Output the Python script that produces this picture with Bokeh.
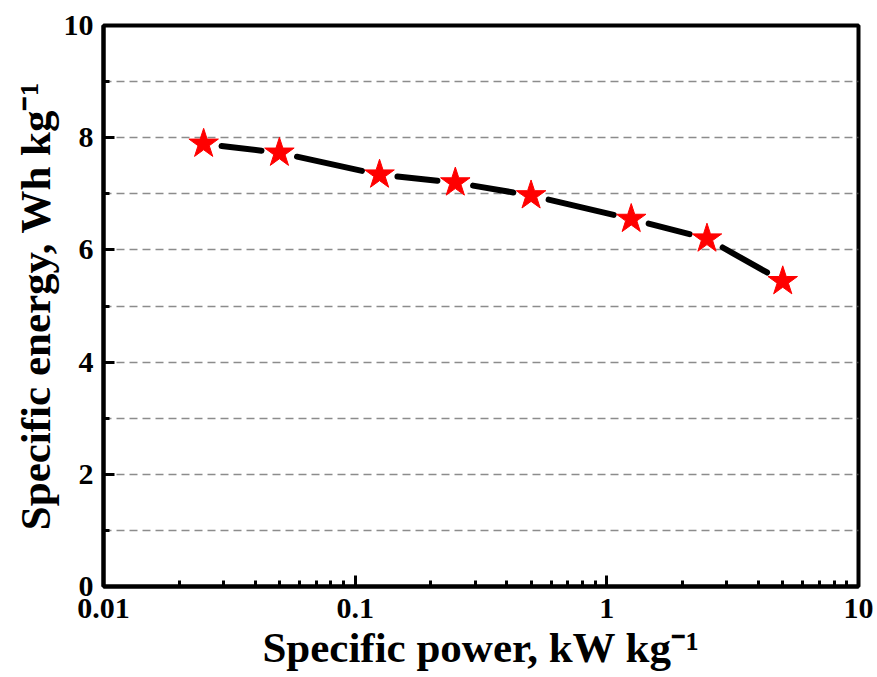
import math

from bokeh.embed import file_html
from bokeh.models import ColumnDataSource, CustomJSTickFormatter, FixedTicker, Range1d
from bokeh.plotting import figure
from bokeh.resources import INLINE

# Ragone data: specific power (kW/kg) vs specific energy (Wh/kg)
power = [0.025, 0.05, 0.125, 0.25, 0.5, 1.25, 2.5, 5.0]
energy = [7.89, 7.73, 7.34, 7.20, 6.97, 6.55, 6.20, 5.44]

x_major = [0.01, 0.1, 1, 10]
x_minor = [m * 10 ** e for e in (-2, -1, 0) for m in range(2, 10)]
y_major = [0, 2, 4, 6, 8, 10]
y_minor = [1, 3, 5, 7, 9]
y_grid = [1, 2, 3, 4, 5, 6, 7, 8, 9]

FONT = "Liberation Serif"
FRAME_W, FRAME_H = 755, 561
X_LO, X_HI = 0.01, 10
Y_LO, Y_HI = 0, 10

p = figure(
    x_axis_type="log",
    x_range=Range1d(X_LO, X_HI),
    y_range=Range1d(Y_LO, Y_HI),
    frame_width=FRAME_W,
    frame_height=FRAME_H,
    min_border_left=103,
    min_border_right=19,
    min_border_top=25,
    min_border_bottom=91,
    output_backend="svg",
    toolbar_location=None,
    background_fill_color="white",
    border_fill_color="white",
)

# frame
p.outline_line_color = "black"
p.outline_line_width = 4

# axes
p.xaxis.ticker = FixedTicker(ticks=x_major, minor_ticks=x_minor)
p.xaxis.formatter = CustomJSTickFormatter(code="return String(tick);")
p.yaxis.ticker = FixedTicker(ticks=y_major, minor_ticks=y_minor)

for axes in (p.xaxis, p.yaxis):
    axes.axis_line_width = 4
    axes.axis_line_color = "black"
    axes.major_tick_in = 11
    axes.major_tick_out = 0
    axes.minor_tick_in = 6
    axes.minor_tick_out = 0
    axes.major_tick_line_width = 3
    axes.minor_tick_line_width = 3
    axes.major_label_text_font = FONT
    axes.major_label_text_font_style = "bold"
    axes.major_label_text_font_size = "30px"
    axes.major_label_text_color = "black"
    axes.axis_label_text_font = FONT
    axes.axis_label_text_font_style = "bold"
    axes.axis_label_text_font_size = "43px"
    axes.axis_label_text_color = "black"

p.xaxis.major_label_standoff = 12
p.yaxis.major_label_standoff = 10

p.xaxis.axis_label = "Specific power, kW kg\u207b\u00b9"
p.yaxis.axis_label = "Specific energy, Wh kg\u207b\u00b9"
p.xaxis.axis_label_standoff = 3
p.yaxis.axis_label_standoff = 2

# grid: dashed horizontal lines only
p.xgrid.visible = False
p.ygrid.ticker = FixedTicker(ticks=y_grid)
p.ygrid.grid_line_color = "#8c8c8c"
p.ygrid.grid_line_width = 1.5
p.ygrid.grid_line_dash = "8 5"

# connecting line, drawn as segments that stop short of each symbol
px_per_dec = FRAME_W / (math.log10(X_HI) - math.log10(X_LO))
px_per_unit = FRAME_H / (Y_HI - Y_LO)
GAP = 18
x0s, y0s, x1s, y1s = [], [], [], []
for (xa, ya), (xb, yb) in zip(zip(power, energy), zip(power[1:], energy[1:])):
    dx = (math.log10(xb) - math.log10(xa)) * px_per_dec
    dy = (yb - ya) * px_per_unit
    L = math.hypot(dx, dy)
    f = GAP / L
    x0s.append(10 ** (math.log10(xa) + f * dx / px_per_dec))
    y0s.append(ya + f * dy / px_per_unit)
    x1s.append(10 ** (math.log10(xb) - f * dx / px_per_dec))
    y1s.append(yb - f * dy / px_per_unit)

p.segment(x0=x0s, y0=y0s, x1=x1s, y1=y1s, line_color="black",
          line_width=6, line_cap="round")

src = ColumnDataSource(dict(x=power, y=energy))
p.scatter("x", "y", source=src, marker="star", size=31,
          fill_color="#ff0000", line_color="#ff0000", line_width=1)

open("out.html", "w").write(file_html(p, INLINE))
